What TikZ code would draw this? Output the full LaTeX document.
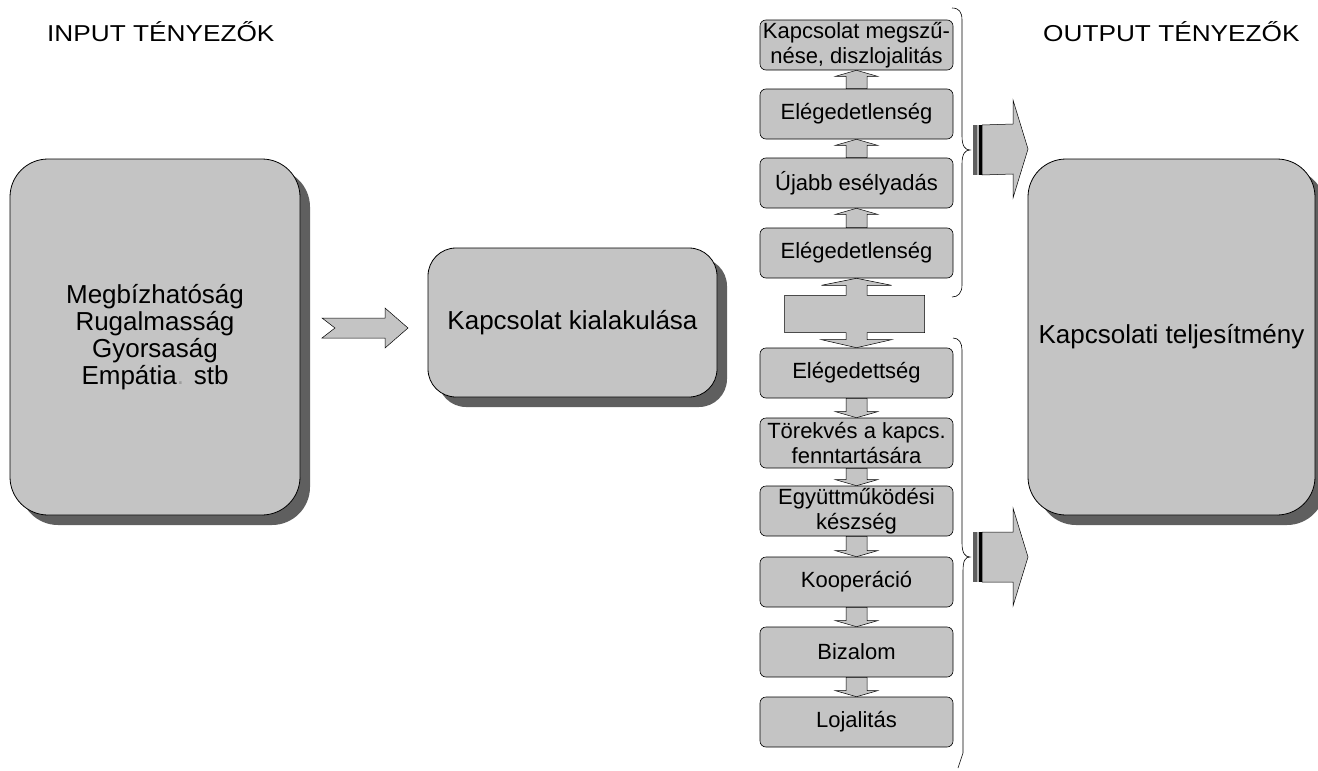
\documentclass[tikz,border=0pt]{standalone}
\usepackage{fontspec}
\setmainfont{Liberation Sans}
\usetikzlibrary{calc,shadows}
\definecolor{boxfill}{RGB}{196,196,196}
\definecolor{shadowgray}{RGB}{95,95,95}
\newcommand\myUpArr[2]{%
  \draw[blockarrow] (#1.south) -- ($(#1.south)+(21,6)$) -- ($(#1.south)+(10.5,6)$) -- ($(#2.north)+(10.5,0)$) -- ($(#2.north)+(-10.5,0)$) -- ($(#1.south)+(-10.5,6)$) -- ($(#1.south)+(-21,6)$) -- cycle;}
\newcommand\myDownArr[2]{%
  \draw[blockarrow] (#2.north) -- ($(#2.north)+(21,-6)$) -- ($(#2.north)+(10.5,-6)$) -- ($(#1.south)+(10.5,0)$) -- ($(#1.south)+(-10.5,0)$) -- ($(#2.north)+(-10.5,-6)$) -- ($(#2.north)+(-21,-6)$) -- cycle;}
\newcommand\myRightArr[2]{%
  \draw[blockarrow] ($(#1)+(12,-25)$) -- ($(#2)+(-15,-25)$) -- ($(#2)+(-15,-49)$) -- (#2) -- ($(#2)+(-15,49)$) -- ($(#2)+(-15,25)$) -- ($(#1)+(12,25)$) -- cycle;
  \fill[shadowgray] ($(#1)+(3,-25)$) rectangle ($(#1)+(7,25)$);
  \fill[gray!60] ($(#1)+(7,-25)$) rectangle ($(#1)+(8.5,25)$);
  \fill[black] ($(#1)+(8.5,-25)$) rectangle ($(#1)+(12,25)$);}
\begin{document}
\begin{tikzpicture}[x=1pt,y=-1pt,
  bigbox/.style={draw=black, line width=0.8pt, fill=boxfill, align=center, inner sep=0pt,
    font=\fontsize{26}{27}\selectfont,
    drop shadow={shadow xshift=10pt,shadow yshift=-10pt,fill=shadowgray,opacity=1}},
  stepbox/.style={draw=black, line width=0.6pt, fill=boxfill, rounded corners=6pt,
    minimum width=193pt, minimum height=50pt, inner sep=0pt, align=center,
    font=\fontsize{22}{25}\selectfont},
  blockarrow/.style={draw=black, line width=0.5pt, fill=boxfill, line join=miter},
  brace/.style={draw=black, line width=0.6pt},
  title/.style={font=\fontsize{23}{23}\selectfont, inner sep=0pt, anchor=west}
]
\useasboundingbox (0,0) rectangle (1318,771);

% titles
\node[title] (tin) at (47,32) {\scalebox{1.14}[1]{INPUT TÉNYEZŐK}};
\node[title] (tout) at (1043,32) {\scalebox{1.14}[1]{OUTPUT TÉNYEZŐK}};

% big boxes
\node[bigbox, rounded corners=38pt, minimum width=290pt, minimum height=356pt] (inp) at (155,337)
  {Megbízhatóság\\ Rugalmasság\\ Gyorsaság\\ Empátia{\color{boxfill!80!black}.} stb};
\node[bigbox, rounded corners=28pt, minimum width=289pt, minimum height=149pt] (kial) at (572.5,322.5)
  {Kapcsolat kialakulása};
\node[bigbox, rounded corners=38pt, minimum width=287pt, minimum height=356pt] (outp) at (1171.5,337)
  {Kapcsolati teljesítmény};

% left arrow
\coordinate (la1) at (322,328);
\coordinate (la2) at (408,328);
\draw[blockarrow] ($(la1)+(0,-10)$) -- ($(la2)+(-23,-10)$) -- ($(la2)+(-23,-20)$) -- (la2)
  -- ($(la2)+(-23,20)$) -- ($(la2)+(-23,10)$) -- ($(la1)+(0,10)$) -- ($(la1)+(13,0)$) -- cycle;

% step boxes
\node[stepbox] (b1) at (856.5,45) {Kapcsolat megszű-\\nése, diszlojalitás};
\node[stepbox] (b2) at (856.5,114) {Elégedetlenség};
\node[stepbox] (b3) at (856.5,183) {Újabb esélyadás};
\node[stepbox] (b4) at (856.5,253) {Elégedetlenség};
\node[stepbox] (b5) at (856.5,373) {Elégedettség};
\node[stepbox] (b6) at (856.5,443) {Törekvés a kapcs.\\fenntartására};
\node[stepbox] (b7) at (856.5,511) {Együttműködési\\készség};
\node[stepbox] (b8) at (856.5,582) {Kooperáció};
\node[stepbox] (b9) at (856.5,652) {Bizalom};
\node[stepbox] (b10) at (856.5,722) {Lojalitás};

\myUpArr{b1}{b2}
\myUpArr{b2}{b3}
\myUpArr{b3}{b4}
\myDownArr{b5}{b6}
\myDownArr{b6}{b7}
\myDownArr{b7}{b8}
\myDownArr{b8}{b9}
\myDownArr{b9}{b10}

% double arrow
\draw[blockarrow] (b4.south) -- ($(b4.south)+(35,7)$) -- ($(b4.south)+(10.5,7)$) -- ($(b4.south)+(10.5,17)$)
  -- ($(b4.south)+(68,17)$) -- ($(b5.north)+(68,-15)$) -- ($(b5.north)+(10.5,-15)$) -- ($(b5.north)+(10.5,-8)$)
  -- ($(b5.north)+(35,-8)$) -- (b5.north) -- ($(b5.north)+(-35,-8)$) -- ($(b5.north)+(-10.5,-8)$)
  -- ($(b5.north)+(-10.5,-15)$) -- ($(b5.north)+(-72,-15)$) -- ($(b4.south)+(-72,17)$)
  -- ($(b4.south)+(-10.5,17)$) -- ($(b4.south)+(-10.5,7)$) -- ($(b4.south)+(-35,7)$) -- cycle;

% braces
\coordinate (ub) at (970,150);
\coordinate (lb) at (970,557);
\draw[brace] (952,8) .. controls (959,8) and (962,12) .. (962,20) -- (962,136)
  .. controls (962,146) and (965,150) .. (ub) .. controls (965,150) and (962,154) .. (962,164)
  -- (962,285) .. controls (962,293) and (958,297) .. (952,297);
\draw[brace] (953,338) .. controls (959,338) and (962,343) .. (962,350) -- (962,543)
  .. controls (962,553) and (965,557) .. (lb) .. controls (965,557) and (963,561) .. (963,571)
  -- (963,753) -- (958,768);

% right arrows
\coordinate (ut) at (1028,149);
\coordinate (lt) at (1028,557);
\myRightArr{ub}{ut}
\myRightArr{lb}{lt}
\end{tikzpicture}
\end{document}
